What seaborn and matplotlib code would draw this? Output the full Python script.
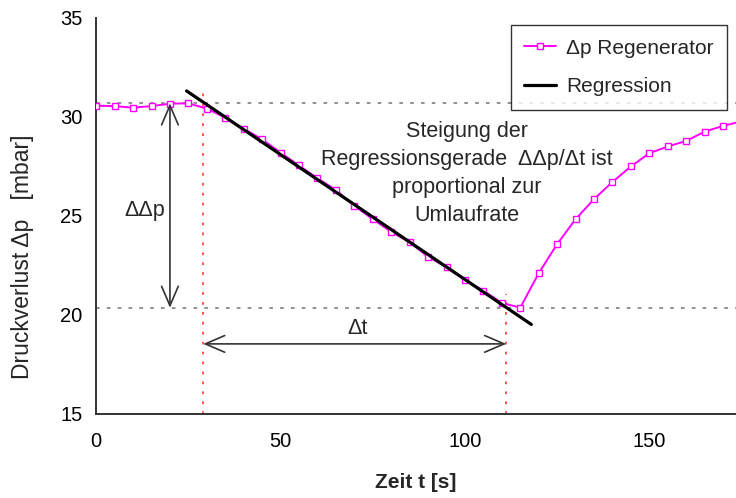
import numpy as np
import pandas as pd
import seaborn as sns
import matplotlib.pyplot as plt

# measured pressure drop over the regenerator
zeit = [0, 5, 10, 15, 20, 25, 30, 35, 40, 45, 50, 55, 60, 65, 70, 75, 80, 85,
        90, 95, 100, 105, 110, 115, 120, 125, 130, 135, 140, 145, 150, 155,
        160, 165, 170, 175]
dp = [30.57, 30.55, 30.47, 30.55, 30.67, 30.69, 30.42, 29.97, 29.41, 28.87,
      28.20, 27.55, 26.90, 26.31, 25.51, 24.84, 24.20, 23.67, 22.94, 22.41,
      21.77, 21.23, 20.61, 20.37, 22.11, 23.58, 24.84, 25.85, 26.72, 27.50,
      28.17, 28.51, 28.79, 29.26, 29.55, 29.78]

# fit window and drawn extent of the regression line
fit_start, fit_end = 30, 110
reg_t = [24.5, 118.0]

# reference levels / markers
dp_oben, dp_unten = 30.69, 20.36
t_start, t_ende = 29.0, 111.2
red_top = [31.5, 21.05]

df = pd.DataFrame({'zeit': zeit, 'dp': dp})
sub = df[(df['zeit'] >= fit_start) & (df['zeit'] <= fit_end)]
slope, icpt = np.polyfit(sub['zeit'], sub['dp'], 1)
reg = pd.DataFrame({'zeit': reg_t, 'dp': [slope * t + icpt for t in reg_t]})

sns.set_style('white')
plt.rcParams['font.family'] = ['Liberation Sans', 'DejaVu Sans']

fig = plt.figure(figsize=(7.36, 4.98), dpi=100)
ax = fig.add_axes([0.1307, 0.1687, 0.8693, 0.7952])

# dotted guide lines
for lvl in (dp_oben, dp_unten):
    ax.axhline(lvl, color='#888888', ls=(0, (2, 4)), lw=1.3, zorder=1)
for t, top in zip((t_start, t_ende), red_top):
    ax.plot([t, t], [15, top], color='#ff4040', ls=(0, (1.5, 4)), lw=1.3, zorder=1)

sns.lineplot(data=df, x='zeit', y='dp', ax=ax, color='#ff00ff', lw=1.4,
             marker='s', markersize=4, markerfacecolor='white',
             markeredgecolor='#ff00ff', markeredgewidth=1.0,
             label='Δp Regenerator', zorder=3)
sns.lineplot(data=reg, x='zeit', y='dp', ax=ax, color='black', lw=2.3,
             label='Regression', zorder=4)

arrow = dict(arrowstyle='<->,head_length=0.7,head_width=0.3', color='#333333',
             lw=1.2, mutation_scale=20, shrinkA=0, shrinkB=0)
ax.annotate('', xy=(20, dp_oben), xytext=(20, dp_unten), arrowprops=arrow)
ax.annotate('', xy=(t_start, 18.54), xytext=(t_ende, 18.54), arrowprops=arrow)

ax.text(13.3, 25.3, 'ΔΔp', fontsize=15.5, ha='center', va='center')
ax.text(70.8, 19.3, 'Δt', fontsize=15.5, ha='center', va='center')
ax.text(100.6, 27.15,
        'Steigung der\nRegressionsgerade  ΔΔp/Δt ist\nproportional zur\nUmlaufrate',
        fontsize=15.5, ha='center', va='center', linespacing=1.45)

ax.set_xlim(0, 173.5)
ax.set_ylim(15, 35)
ax.set_xticks([0, 50, 100, 150])
ax.set_yticks([15, 20, 25, 30, 35])
ax.tick_params(axis='both', labelsize=14.5, direction='out', length=6,
               width=1.2, colors='#333333', labelcolor='black', pad=4)
ax.tick_params(axis='x', pad=7)

for s in ('top', 'right'):
    ax.spines[s].set_visible(False)
for s in ('left', 'bottom'):
    ax.spines[s].set_color('#333333')
    ax.spines[s].set_linewidth(1.4)

ax.set_xlabel('Zeit t [s]', fontsize=15, fontweight='bold', labelpad=16)
ax.set_ylabel('Druckverlust Δp   [mbar]', fontsize=16.5)
ax.yaxis.set_label_coords(-0.097, 0.396)

leg = ax.legend(loc='upper right', bbox_to_anchor=(0.986, 0.982), fontsize=15,
                frameon=True, fancybox=False, edgecolor='black',
                borderpad=0.65, labelspacing=0.95, handlelength=1.5,
                handletextpad=0.5, borderaxespad=0)
leg.get_frame().set_linewidth(1.0)

fig.savefig('out.png', dpi=100)
